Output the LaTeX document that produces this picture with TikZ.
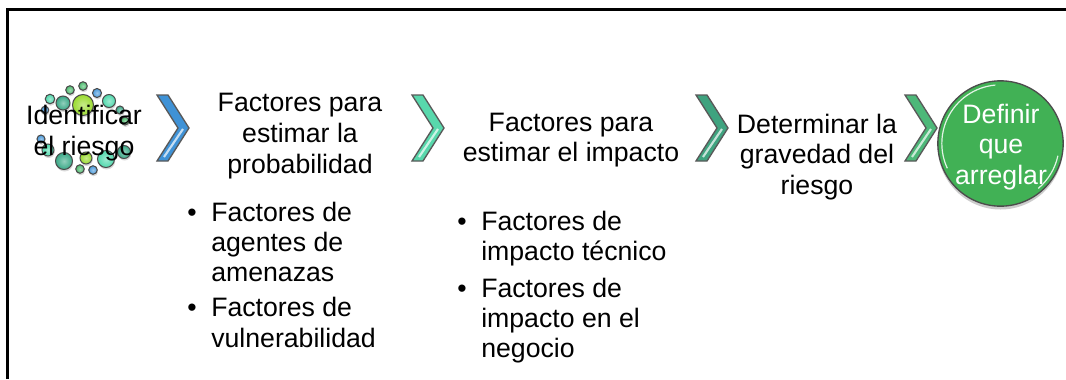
\documentclass[tikz,border=0pt]{standalone}
\usepackage{fontspec}
\setmainfont{Liberation Sans}
\usetikzlibrary{shadows}

\definecolor{chevblue}{HTML}{3F92D6}
\definecolor{chevmint}{HTML}{58D8AC}
\definecolor{chevteal}{HTML}{3FA37F}
\definecolor{chevgreen}{HTML}{4DB879}
\definecolor{ballteal}{HTML}{38A886}
\definecolor{balllime}{HTML}{9ADB2E}
\definecolor{ballgreen}{HTML}{4DBB6E}
\definecolor{ballblue}{HTML}{4A9ADB}
\definecolor{ballmint}{HTML}{4FD8AC}
\definecolor{discgreen}{HTML}{41B155}

\tikzset{
  steptext/.style={align=center,inner sep=0pt,font=\fontsize{20}{23}\selectfont},
  itemtext/.style={align=left,anchor=west,inner sep=0pt,font=\fontsize{20}{22.7}\selectfont},
  bubble/.style={circle,draw=black!70,line width=0.8pt,inner sep=0pt,drop shadow={shadow xshift=0.5pt,shadow yshift=-1.5pt,opacity=0.3}},
  chevronmark/.pic={
    \path[draw=black!65,line width=1pt,fill=#1,line join=miter] (0,0) -- (11,0) -- (32,33) -- (11,66) -- (0,66) -- (21,33) -- cycle;
    \path[draw=white!70!#1,line width=1.6pt] (7,62) -- (26,34);
  }
}
\newcommand{\itemdot}{\llap{\textbullet\hspace{11pt}}}

\begin{document}
\begin{tikzpicture}[x=0.75pt,y=-0.75pt]
\useasboundingbox (0,0) rectangle (1066,379);

\path[draw,line width=2.2pt] (7.5,379) -- (7.5,9.5) -- (1066,9.5);

\foreach \i/\bx/\by/\br/\bc in {
  1/83/105/21/balllime, 2/63/103/14/ballteal, 3/50/99/9.5/ballmint,
  4/70/90/8.5/ballgreen, 5/83/86/8.5/ballgreen, 6/97/93/9/ballblue,
  7/109/101/13/ballmint, 8/120/110/8/ballteal, 9/125/121/8/ballgreen,
  10/45/110/7.5/ballblue, 11/41/139/8/ballblue, 12/48/150/12/ballmint,
  13/64/161/17/ballteal, 14/86/158/12/balllime, 15/106/159/17/ballmint,
  16/124/152/13/ballteal, 17/80/169/8.5/ballgreen, 18/93/170/8.5/ballblue}
  \node[bubble,minimum size=\br*0.75pt,inner color=white!45!\bc,outer color=\bc] (b\i) at (\bx,\by) {};

\node[steptext] (identificar) at (84,133) {Identificar\\el riesgo};
\pic at (157,95) {chevronmark=chevblue};

\node[steptext] (probabilidad) at (300,136) {Factores para\\estimar la\\probabilidad};
\node[itemtext] (agentes) at (211,242) {\itemdot Factores de\\agentes de\\amenazas};
\node[itemtext] (vulnerabilidad) at (211,322.5) {\itemdot Factores de\\vulnerabilidad};
\pic at (412,95) {chevronmark=chevmint};

\node[steptext] (impacto) at (571,140) {Factores para\\estimar el impacto};
\node[itemtext] (tecnico) at (481,238.5) {\itemdot Factores de\\impacto técnico};
\node[itemtext] (negocio) at (481,320.5) {\itemdot Factores de\\impacto en el\\negocio};
\pic at (696,95) {chevronmark=chevteal};

\node[steptext] (gravedad) at (817,157) {Determinar la\\gravedad del\\riesgo};
\pic at (905,95) {chevronmark=chevgreen};

\node[circle,draw=black!70,line width=1pt,fill=discgreen,minimum size=94pt,inner sep=0pt,drop shadow={shadow xshift=0pt,shadow yshift=-2.5pt,opacity=0.4}] (definir) at (1000.5,143.5) {};
\path[draw=white!85!discgreen,line width=0.9pt] ([shift={(95:44pt)}]definir.center) arc[start angle=95,end angle=205,radius=44pt];
\path[draw=white!85!discgreen,line width=0.9pt] ([shift={(-12:44pt)}]definir.center) arc[start angle=-12,end angle=-50,radius=44pt];
\node[steptext,text=white] (arreglar) at (1001,147) {Definir\\que\\arreglar};
\end{tikzpicture}
\end{document}
